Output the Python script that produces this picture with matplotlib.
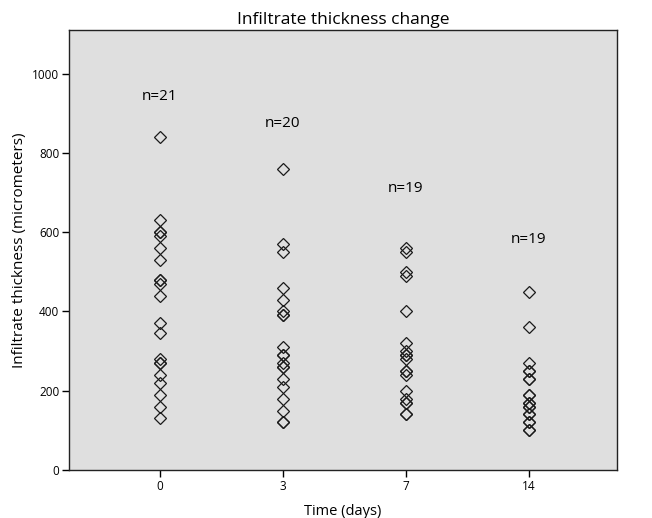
# Infiltrate thickness change - dot plot per time point

import matplotlib.pyplot as plt

# time points (categories) and sample counts
days = ['0', '3', '7', '14']
counts = [21, 20, 19, 19]

# thickness values (micrometers); overlapping points repeated
day0 = [840, 630, 600, 600, 590, 560, 530, 480, 480, 470, 440, 370, 345,
        280, 270, 270, 240, 220, 190, 160, 130]
day3 = [760, 570, 550, 460, 430, 400, 390, 390, 310, 290, 290, 270, 260,
        260, 230, 210, 180, 150, 120, 120]
day7 = [560, 550, 500, 490, 400, 320, 300, 290, 290, 280, 250, 250, 240,
        200, 180, 170, 170, 140, 140]
day14 = [450, 360, 270, 250, 250, 230, 190, 170, 170, 160, 160, 140, 140,
         120, 120, 100, 100, 230, 190]
series = [day0, day3, day7, day14]

# where the n= labels sit (y value)
label_y = [942, 874, 710, 582]

plt.rcParams['font.family'] = ['Open Sans', 'DejaVu Sans']

fig = plt.figure(figsize=(6.52, 5.18), dpi=100)
ax = fig.add_axes([0.1058, 0.0927, 0.8405, 0.8493])
ax.set_facecolor('#dfdfdf')

for i, vals in enumerate(series):
    ax.plot([i] * len(vals), vals, linestyle='none', marker='D',
            markersize=6.2, markerfacecolor='none', markeredgecolor='#1a1a1a',
            markeredgewidth=0.9)
    ax.text(i, label_y[i], 'n=%d' % counts[i], ha='center', va='center',
            fontsize=11)

ax.set_xlim(-0.74, 3.72)
ax.set_ylim(0, 1110)
ax.set_xticks(range(len(days)))
ax.set_xticklabels(days)
ax.set_yticks([0, 200, 400, 600, 800, 1000])
ax.tick_params(labelsize=8.5, length=5, width=1, direction='out', pad=2)

for s in ax.spines.values():
    s.set_linewidth(1.0)
    s.set_color('#222222')

ax.set_xlabel('Time (days)', fontsize=10.5, labelpad=8)
ax.set_ylabel('Infiltrate thickness (micrometers)', fontsize=11, labelpad=4)
ax.set_title('Infiltrate thickness change', fontsize=12.5, pad=4)

fig.savefig('out.png', dpi=100)
